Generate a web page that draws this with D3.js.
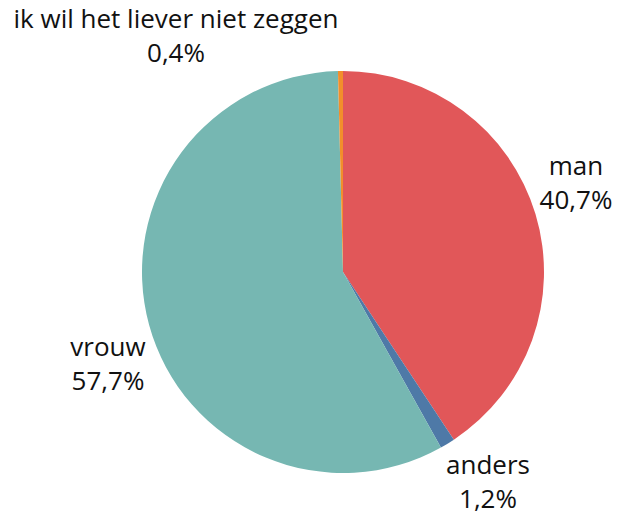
<!DOCTYPE html>
<html>
<head>
<meta charset="utf-8">
<script src="https://cdn.jsdelivr.net/npm/d3@7"></script>
<style>
  body { margin: 0; background: #fff; }
  text { font-family: "Open Sans", "Noto Sans", sans-serif; fill: #111; }
</style>
</head>
<body>
<div id="chart"></div>
<script>
// data
var categories = ["man", "anders", "vrouw", "ik wil het liever niet zeggen"];
var values = [40.7, 1.2, 57.7, 0.4];
var colors = ["#e15759", "#4e79a7", "#76b7b2", "#f28e2b"];
// label anchor (relative to pie centre)
var labelPos = [[233, -97], [145, 202], [-235, 84], [-167, -244]];

var width = 621, height = 515;
var cx = 343, cy = 272, radius = 201;

var svg = d3.select("#chart").append("svg")
  .attr("width", width).attr("height", height);

var g = svg.append("g")
  .attr("transform", "translate(" + cx + "," + cy + ")");

var pie = d3.pie().sort(null).value(function (d) { return d.value; });
var arc = d3.arc().innerRadius(0).outerRadius(radius);

var data = categories.map(function (c, i) {
  return {name: c, value: values[i], color: colors[i], pos: labelPos[i]};
});

g.selectAll("path")
  .data(pie(data)).enter().append("path")
  .attr("d", arc)
  .style("fill", function (d) { return d.data.color; });

var fmt = function (v) { return v.toFixed(1).replace(".", ",") + "%"; };

var labels = g.selectAll("text.lbl")
  .data(data).enter().append("text")
  .attr("class", "lbl")
  .attr("text-anchor", "middle")
  .attr("font-size", "26px")
  .attr("font-weight", 500);

labels.append("tspan")
  .attr("x", function (d) { return d.pos[0]; })
  .attr("y", function (d) { return d.pos[1]; })
  .text(function (d) { return d.name; });

labels.append("tspan")
  .attr("x", function (d) { return d.pos[0]; })
  .attr("y", function (d) { return d.pos[1] + 34; })
  .text(function (d) { return fmt(d.value); });
</script>
</body>
</html>
